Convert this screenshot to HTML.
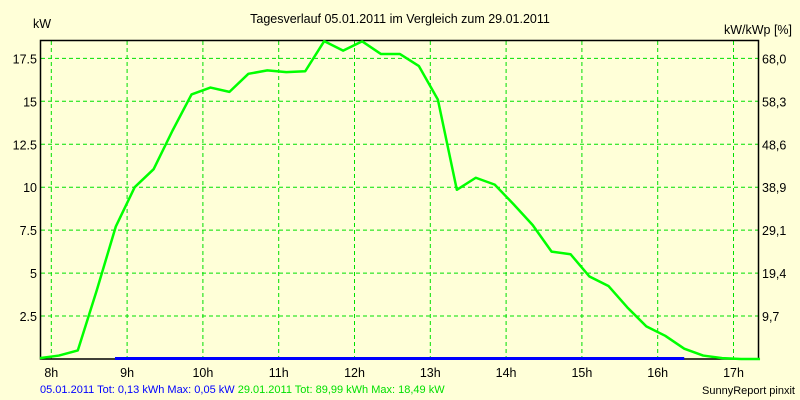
<!DOCTYPE html>
<html><head><meta charset="utf-8"><style>
html,body{margin:0;padding:0;background:#FFFFD8;}
svg{display:block;font-family:"Liberation Sans",sans-serif;}
</style></head><body>
<svg id="chart" width="800" height="400" viewBox="0 0 800 400">
<rect x="0" y="0" width="800" height="400" fill="#FFFFD8"/>
<text x="400" y="23" text-anchor="middle" font-size="12.5" fill="#000">Tagesverlauf 05.01.2011 im Vergleich zum 29.01.2011</text>
<text x="42" y="28" text-anchor="middle" font-size="12.5" fill="#000">kW</text>
<text x="758" y="34" text-anchor="middle" font-size="12.5" fill="#000">kW/kWp [%]</text>
<g id="grid"></g>
<rect x="40.5" y="40.5" width="718" height="318.5" fill="none" stroke="#000" stroke-width="1.5"/>
<g id="series"></g>
<g id="labels"></g>
<text x="40" y="393" font-size="11"><tspan fill="#0000FF">05.01.2011 Tot: 0,13 kWh Max: 0,05 kW </tspan><tspan fill="#00E000">29.01.2011 Tot: 89,99 kWh Max: 18,49 kW</tspan></text>
<text x="795" y="394" text-anchor="end" font-size="11" fill="#000">SunnyReport pinxit</text>
</svg>
<script>
const hourTicks=[8,9,10,11,12,13,14,15,16,17];
const yTicks=[2.5,5,7.5,10,12.5,15,17.5];
const yTickLabels=["2.5","5","7.5","10","12.5","15","17.5"];
const y2TickLabels=["9,7","19,4","29,1","38,9","48,6","58,3","68,0"];
const greenTimes=[7.85,8.1,8.35,8.6,8.85,9.1,9.35,9.6,9.85,10.1,10.35,10.6,10.85,11.1,11.35,11.6,11.85,12.1,12.35,12.6,12.85,13.1,13.35,13.6,13.85,14.1,14.35,14.6,14.85,15.1,15.35,15.6,15.85,16.1,16.35,16.6,16.85,17.1,17.35];
const greenValues=[0.05,0.2,0.5,4.0,7.7,10.0,11.05,13.3,15.4,15.8,15.55,16.6,16.8,16.7,16.75,18.5,17.95,18.49,17.75,17.75,17.05,15.1,9.85,10.55,10.15,9.0,7.8,6.25,6.1,4.8,4.25,3.0,1.9,1.35,0.6,0.2,0.05,0,0];
const blueTimes=[8.84,16.35];
const blueValues=[0,0];
const X=t=>51.3+(t-8)*75.8;
const Y=v=>359-v*17.18;
const NS="http://www.w3.org/2000/svg";
const grid=document.getElementById('grid'),series=document.getElementById('series'),labels=document.getElementById('labels');
function mk(tag,attrs,parent){const e=document.createElementNS(NS,tag);for(const k in attrs)e.setAttribute(k,attrs[k]);parent.appendChild(e);return e;}
hourTicks.forEach(h=>{
  const l=mk('line',{x1:X(h),x2:X(h),y1:41,y2:359,stroke:'#00E000','stroke-dasharray':'4,3','stroke-width':1},grid);
  
  
  const t=mk('text',{x:X(h),y:377,'text-anchor':'middle','font-size':12.5,fill:'#000'},labels);
  t.textContent=h+'h';
  
  
});
yTicks.forEach((v,i)=>{
  const l=mk('line',{x1:41,x2:758,y1:Y(v),y2:Y(v),stroke:'#00E000','stroke-dasharray':'4,3','stroke-width':1},grid);
  
  
  const t=mk('text',{x:37,y:Y(v)+5,'text-anchor':'end','font-size':12.5,fill:'#000'},labels);
  t.textContent=yTickLabels[i];
  
  
  const t2=mk('text',{x:762,y:Y(v)+5,'font-size':12.5,fill:'#000'},labels);
  t2.textContent=y2TickLabels[i];
  
  
});
const gp=mk('polyline',{points:greenTimes.map((t,i)=>X(t)+','+Y(greenValues[i])).join(' '),fill:'none',stroke:'#00FF00','stroke-width':2.5,'stroke-linejoin':'round'},series);


const bp=mk('polyline',{points:blueTimes.map((t,i)=>X(t)+','+(Y(blueValues[i])-0.5)).join(' '),fill:'none',stroke:'#0000FF','stroke-width':3},series);


</script>
</body></html>
